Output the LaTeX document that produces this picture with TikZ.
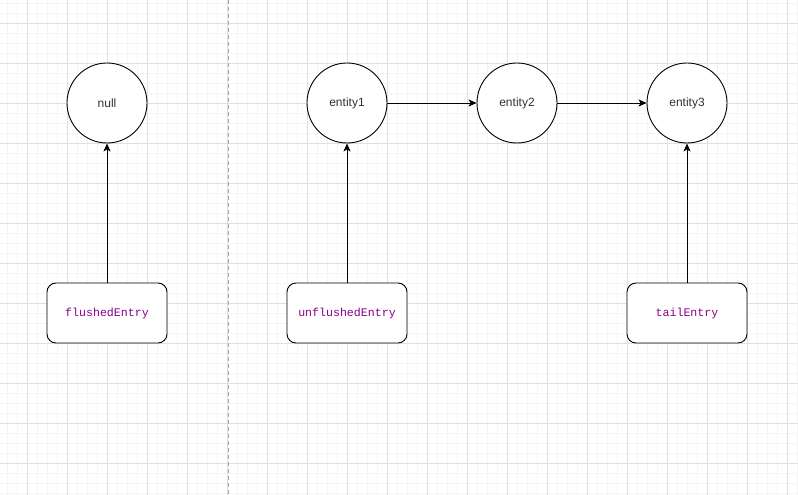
\documentclass[tikz,border=0pt]{standalone}
\usepackage{fontspec}
\setmainfont{Liberation Sans}
\setmonofont{Liberation Mono}
\usetikzlibrary{arrows.meta}
\definecolor{minorgrid}{RGB}{244,244,244}
\definecolor{majorgrid}{RGB}{224,224,224}
\definecolor{txtgray}{RGB}{51,51,51}
\definecolor{codepurple}{RGB}{136,0,136}
\tikzset{
  ent/.style={circle, draw=black, line width=0.9pt, minimum size=80pt, inner sep=0pt, fill=white,
    font=\fontsize{12}{14}\selectfont, text=txtgray},
  ptr/.style={rectangle, rounded corners=9pt, draw=black, line width=0.9pt, minimum width=120pt,
    minimum height=60pt, fill=white, font=\ttfamily\fontsize{11.6}{14}\selectfont, text=codepurple},
  link/.style={line width=0.9pt, -{Stealth[length=8pt,width=7pt,inset=2pt]}},
}
\begin{document}
\begin{tikzpicture}[x=1pt,y=-1pt]
\useasboundingbox (0,0) rectangle (798,495);
\fill[white] (0,0) rectangle (798,495);
% minor grid
\foreach \x in {7,17,...,797} \draw[minorgrid, line width=0.8pt] (\x,0) -- (\x,495);
\foreach \y in {3,13,...,493} \draw[minorgrid, line width=0.8pt] (0,\y) -- (798,\y);
% major grid
\foreach \x in {27,67,...,787} \draw[majorgrid, line width=0.8pt] (\x,0) -- (\x,495);
\foreach \y in {23,63,...,483} \draw[majorgrid, line width=0.8pt] (0,\y) -- (798,\y);
% divider
\coordinate (dtop) at (228,0);
\coordinate (dbot) at (228,495);
\draw[gray!70, line width=0.8pt, dash pattern=on 4pt off 3pt] (dtop) -- (dbot);
% nodes
\node[ent] (null) at (107,103) {null};
\node[ent] (e1) at (347,103) {entity1};
\node[ent] (e2) at (517,103) {entity2};
\node[ent] (e3) at (687,103) {entity3};
\node[ptr] (fe) at (107,313) {flushedEntry};
\node[ptr] (ue) at (347,313) {unflushedEntry};
\node[ptr] (te) at (687,313) {tailEntry};
% connectors
\draw[link] (fe) -- (null);
\draw[link] (ue) -- (e1);
\draw[link] (te) -- (e3);
\draw[link] (e1) -- (e2);
\draw[link] (e2) -- (e3);
\end{tikzpicture}
\end{document}
